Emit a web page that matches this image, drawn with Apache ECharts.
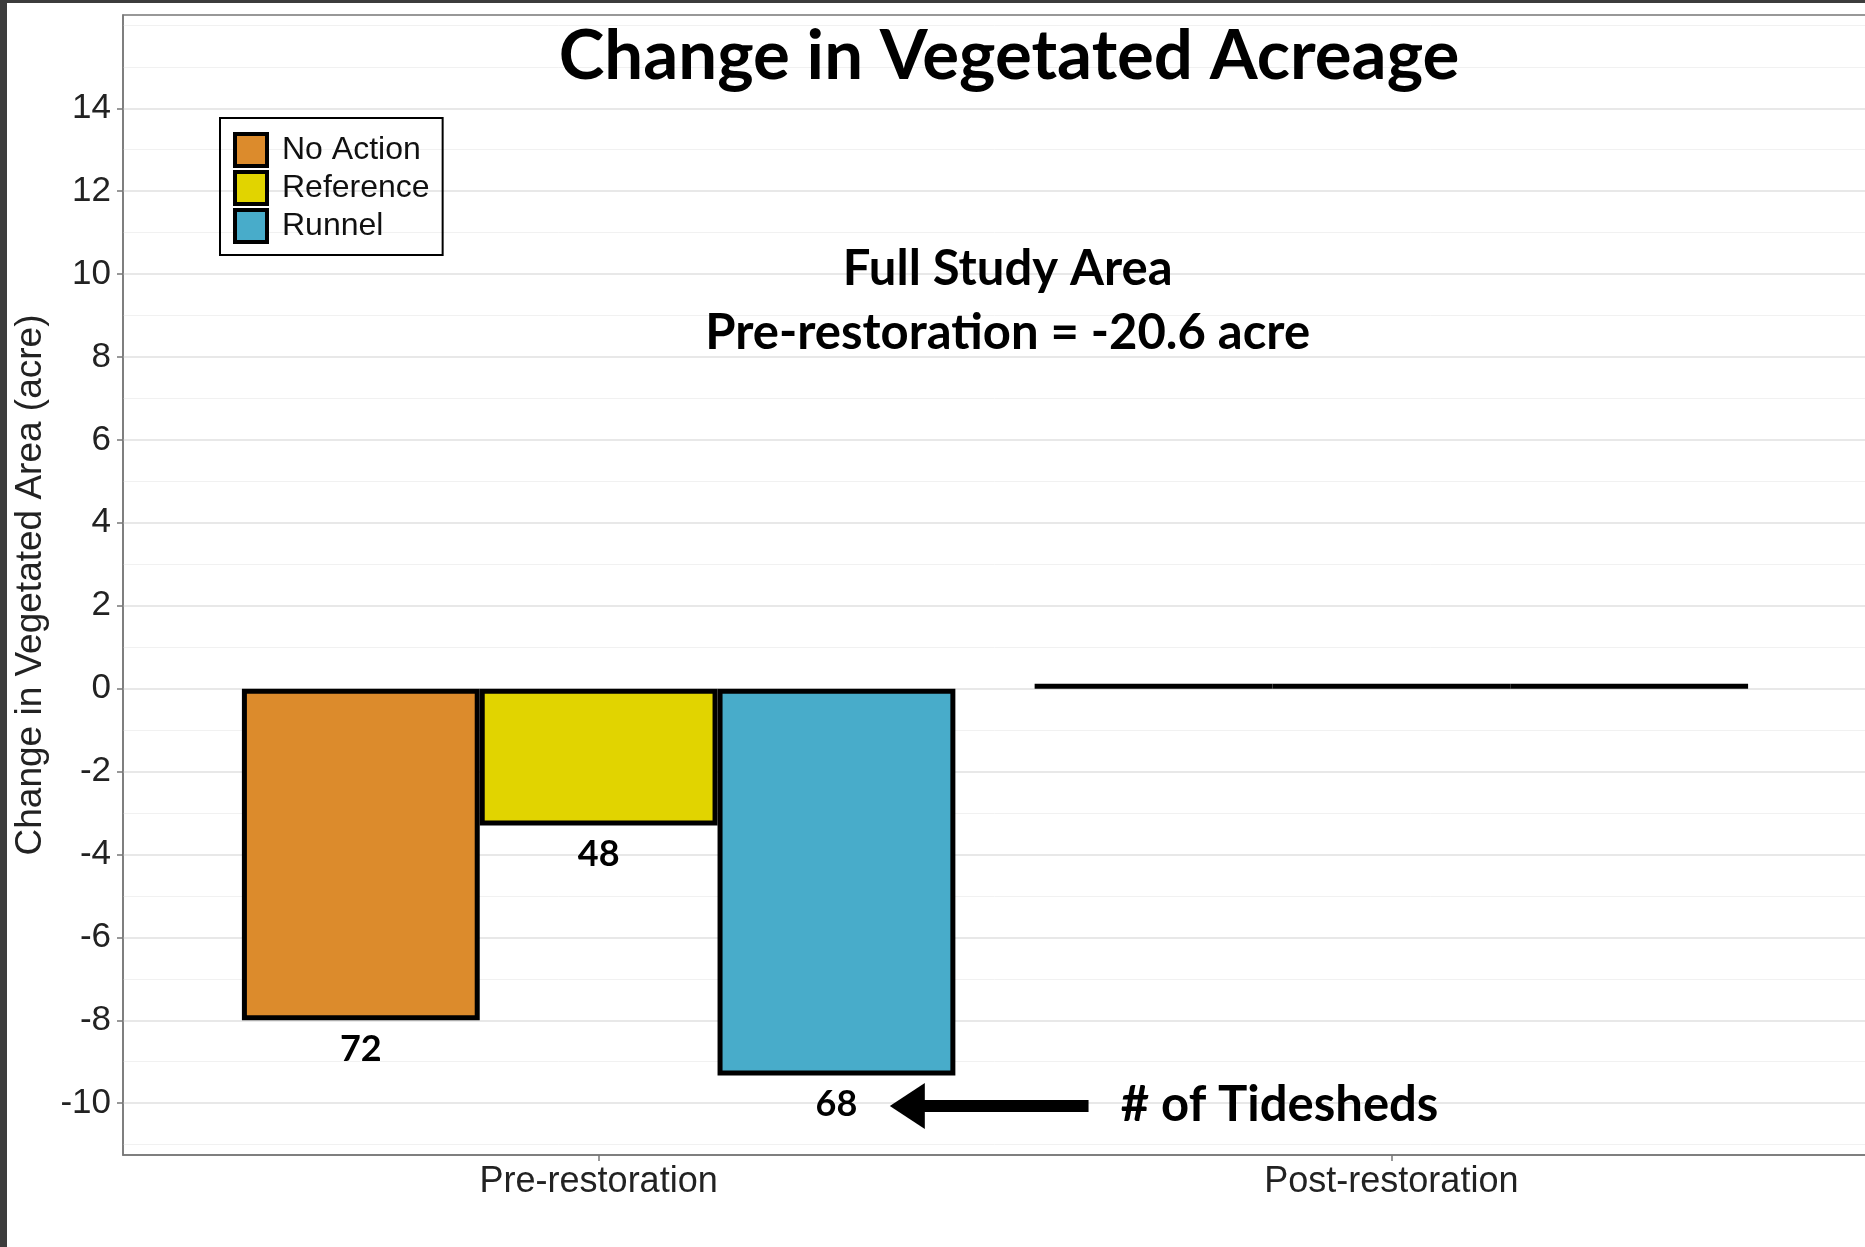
<!DOCTYPE html>
<html>
<head>
<meta charset="utf-8">
<title>Change in Vegetated Acreage</title>
<script src="https://cdn.jsdelivr.net/npm/echarts@6/dist/echarts.min.js"></script>
<style>
  html, body { margin: 0; padding: 0; background: #3c3c3c; }
  #chart { position: absolute; left: 7px; top: 3px; width: 1858px; height: 1244px; background: #fff; }
</style>
</head>
<body>
<div id="chart"></div>
<script>
// x categories and the three dodged groups
const categories = ['Pre-restoration', 'Post-restoration']
const groups = ['No Action', 'Reference', 'Runnel']
const groupColors = ['#DC8B2C', '#E1D400', '#48ACCA']

// change in vegetated area (acre) per group
const preValues = [-8.0, -3.3, -9.33]
const postValues = [0, 0, 0]
// number of tidesheds, written under the pre-restoration bars
const tidesheds = [72, 48, 68]

// y axis breaks
const yLabels = [-10, -8, -6, -4, -2, 0, 2, 4, 6, 8, 10, 12, 14]
const yMinor = [-11, -9, -7, -5, -3, -1, 1, 3, 5, 7, 9, 11, 13, 15, 16]

const Y_MIN = -11.25
const Y_MAX = 16.25
const DODGE = 0.3 // bar width in category units

const calibri = 'Lato'
const arial = 'Liberation Sans'

const chart = echarts.init(document.getElementById('chart'))

const series = groups.map((name, g) => ({
  name,
  type: 'bar',
  xAxisIndex: 0,
  yAxisIndex: 0,
  barWidth: '100%',
  barGap: '-100%',
  barMinHeight: 5,
  itemStyle: { color: groupColors[g], borderColor: '#000', borderWidth: 5 },
  label: {
    show: false,
    position: 'bottom',
    distance: 11,
    fontFamily: calibri,
    fontWeight: 'bold',
    fontSize: 36,
    color: '#000'
  },
  data: [
    {
      value: [1 + (g - 1) * DODGE, preValues[g]],
      label: { show: true, formatter: String(tidesheds[g]) }
    },
    {
      // empty post-restoration bars show up as a flat black line at zero
      value: [2 + (g - 1) * DODGE, postValues[g]],
      itemStyle: { color: '#000', borderWidth: 0 }
    }
  ]
}))

// text notes and the arrow hang off the first series
series[0].markPoint = {
  silent: true,
  symbol: 'circle',
  symbolSize: 0,
  itemStyle: { color: '#000' },
  label: { show: true, position: 'inside', fontFamily: calibri, fontWeight: 'bold', fontSize: 49, color: '#000' },
  data: [
    { coord: [1.516, 10.12], label: { formatter: 'Full Study Area' } },
    { coord: [1.516, 8.57], label: { formatter: 'Pre-restoration = -20.6 acre' } },
    { coord: [1.859, -10.05], label: { formatter: '# of Tidesheds' } },
    // arrow head
    { coord: [1.3894, -10.07], symbol: 'triangle', symbolSize: [46, 35], symbolRotate: 90, label: { show: false } }
  ]
}
series[0].markLine = {
  silent: true,
  symbol: ['none', 'none'],
  label: { show: false },
  lineStyle: { color: '#000', width: 12, type: 'solid' },
  data: [[{ coord: [1.618, -10.07] }, { coord: [1.395, -10.07] }]]
}

const option = {
  backgroundColor: '#fff',
  animation: false,
  title: {
    text: 'Change in Vegetated Acreage',
    left: 997,
    top: 14,
    textAlign: 'center',
    textStyle: { fontFamily: calibri, fontWeight: 'bold', fontSize: 69, color: '#000' }
  },
  legend: {
    orient: 'vertical',
    left: 213,
    top: 115,
    icon: 'rect',
    itemWidth: 32,
    itemHeight: 32,
    itemGap: 2,
    padding: [14, 13, 11, 13],
    borderColor: '#000',
    borderWidth: 2,
    selectedMode: false,
    itemStyle: { borderColor: '#000', borderWidth: 4 },
    textStyle: { fontFamily: arial, fontSize: 32, color: '#111', lineHeight: 32, padding: [0, 0, 0, 10] },
    data: groups
  },
  grid: {
    left: 116,
    top: 12,
    right: -2,
    bottom: 92,
    show: true,
    borderColor: '#777',
    borderWidth: 1.5,
    containLabel: false,
    outerBoundsMode: 'none'
  },
  xAxis: {
    type: 'value',
    min: 0.4,
    max: 2.6,
    axisLine: { show: true, onZero: false, lineStyle: { color: '#777', width: 1.5 } },
    axisTick: { show: true, length: 6, customValues: [1, 2], lineStyle: { color: '#777', width: 1.5 } },
    axisLabel: {
      customValues: [1, 2],
      formatter: v => categories[Math.round(v) - 1],
      fontFamily: arial,
      fontSize: 36,
      color: '#222',
      margin: 9
    },
    splitLine: { show: false }
  },
  yAxis: [
    {
      type: 'value',
      min: Y_MIN,
      max: Y_MAX,
      name: 'Change in Vegetated Area (acre)',
      nameLocation: 'middle',
      nameGap: 68,
      nameTextStyle: { fontFamily: arial, fontSize: 37, color: '#222' },
      axisLine: { show: true, onZero: false, lineStyle: { color: '#777', width: 1.5 } },
      axisTick: { show: true, length: 6, customValues: yLabels, lineStyle: { color: '#777', width: 1.5 } },
      axisLabel: { customValues: yLabels, fontFamily: arial, fontSize: 35, color: '#222', margin: 12 },
      splitLine: { show: true, lineStyle: { color: '#e8e8e8', width: 2 } }
    },
    {
      // minor grid lines only
      type: 'value',
      min: Y_MIN,
      max: Y_MAX,
      position: 'left',
      axisLine: { show: false },
      axisTick: { show: false, customValues: yMinor },
      axisLabel: { show: false, customValues: yMinor },
      splitLine: { show: true, lineStyle: { color: '#f1f1f1', width: 1 } }
    }
  ],
  series
}

chart.setOption(option)
</script>
</body>
</html>
